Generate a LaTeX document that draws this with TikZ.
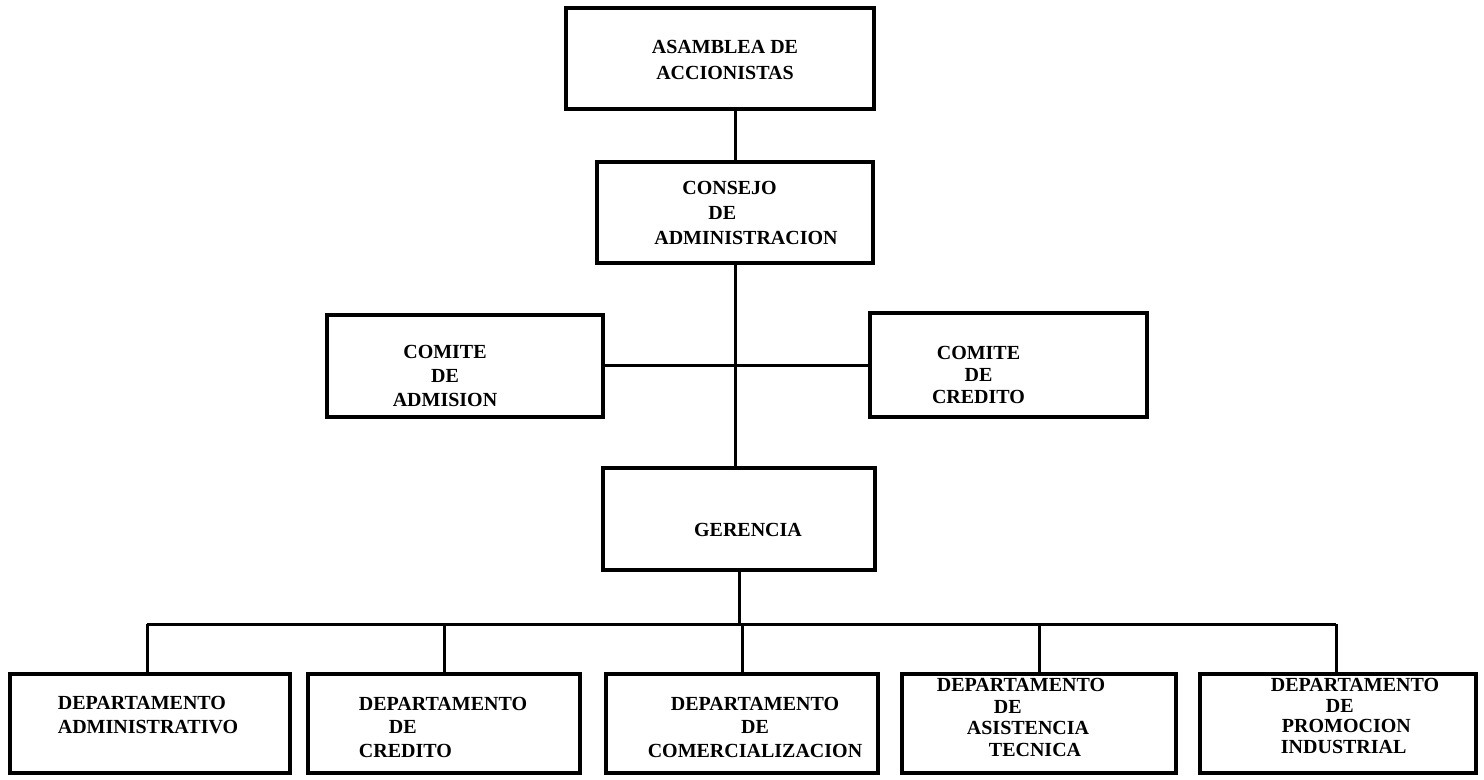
\documentclass[tikz,border=0pt]{standalone}
\usepackage{fontspec}
\setmainfont{Liberation Serif}
\usetikzlibrary{calc}
\tikzset{
  box/.style={draw, line width=1.6pt, inner sep=0pt},
  txt/.style={font=\bfseries\fontsize{10}{#1}\selectfont, inner sep=0pt},
  link/.style={line width=1.5pt}
}
\begin{document}
\begin{tikzpicture}[x=0.5pt,y=-0.5pt]
\useasboundingbox[fill=white] (0,0) rectangle (1484,780);

\node[box, minimum width=154pt, minimum height=50.5pt,
  label={[txt=13pt, name=asmt, align=center, xshift=2.5pt, yshift=-0.75pt]center:{ASAMBLEA DE\\ACCIONISTAS}}]
  (asm) at (720,58.5) {};

\node[box, minimum width=138pt, minimum height=50.5pt,
  label={[txt=12.5pt, name=const, align=left, xshift=5.5pt, yshift=0pt]center:{\hspace*{14pt}CONSEJO\\\hspace*{27pt}DE\\ADMINISTRACION}}]
  (cons) at (735,212.5) {};

\node[box, minimum width=138pt, minimum height=51pt,
  label={[txt=12pt, name=cadmt, align=center, xshift=-10pt, yshift=-5pt]center:{COMITE\\DE\\ADMISION}}]
  (cadm) at (465,366) {};

\node[box, minimum width=138.5pt, minimum height=52pt,
  label={[txt=11pt, name=ccredt, align=center, xshift=-15pt, yshift=-5pt]center:{COMITE\\DE\\CREDITO}}]
  (ccred) at (1008.5,365) {};

\node[box, minimum width=136pt, minimum height=51pt,
  label={[txt=12pt, name=gert, xshift=4.5pt, yshift=-5.5pt]center:{GERENCIA}}]
  (ger) at (739,519) {};

\node[box, minimum width=140pt, minimum height=49.5pt,
  label={[txt=12pt, name=d1t, align=left, xshift=-1pt, yshift=4.25pt]center:{DEPARTAMENTO\\ADMINISTRATIVO}}]
  (d1) at (150,723.5) {};

\node[box, minimum width=136pt, minimum height=49.5pt,
  label={[txt=11.75pt, name=d2t, align=left, xshift=-0.5pt, yshift=-1.75pt]center:{DEPARTAMENTO\\\hspace*{15pt}DE\\CREDITO}}]
  (d2) at (444,723.5) {};

\node[box, minimum width=136pt, minimum height=49.5pt,
  label={[txt=11.75pt, name=d3t, align=center, xshift=6.5pt, yshift=-1.75pt]center:{DEPARTAMENTO\\DE\\COMERCIALIZACION}}]
  (d3) at (742,723.5) {};

\node[box, minimum width=137pt, minimum height=49.5pt,
  label={[txt=10.8pt, name=d4t, align=left, xshift=-9pt, yshift=3pt]center:{DEPARTAMENTO\\\hspace*{28.5pt}DE\\\hspace*{15pt}ASISTENCIA\\\hspace*{26pt}TECNICA}}]
  (d4) at (1039,723.5) {};

\node[box, minimum width=138pt, minimum height=49.5pt,
  label={[txt=10.4pt, name=d5t, align=left, xshift=8.5pt, yshift=3.75pt]center:{DEPARTAMENTO\\\hspace*{27.5pt}DE\\\hspace*{5.5pt}PROMOCION\\\hspace*{5pt}INDUSTRIAL}}]
  (d5) at (1338,723.5) {};

\coordinate (busL) at (147,624);
\coordinate (busR) at (1336,624);

\draw[link] (cons.north) -- (cons.north |- asm.south);
\draw[link] (cons.south) -- (cons.south |- ger.north);
\draw[link] (cadm.east) -- (cadm.east -| ccred.west);
\draw[link] (ger.south) -- (ger.south |- busL);
\draw[link] (busL) -- (busR);
\draw[link] (busL) -- (busL |- d1.north);
\draw[link] (d2.north) -- (d2.north |- busL);
\draw[link] (d3.north) -- (d3.north |- busL);
\draw[link] (d4.north) -- (d4.north |- busL);
\draw[link] (busR) -- (busR |- d5.north);
\end{tikzpicture}
\end{document}
